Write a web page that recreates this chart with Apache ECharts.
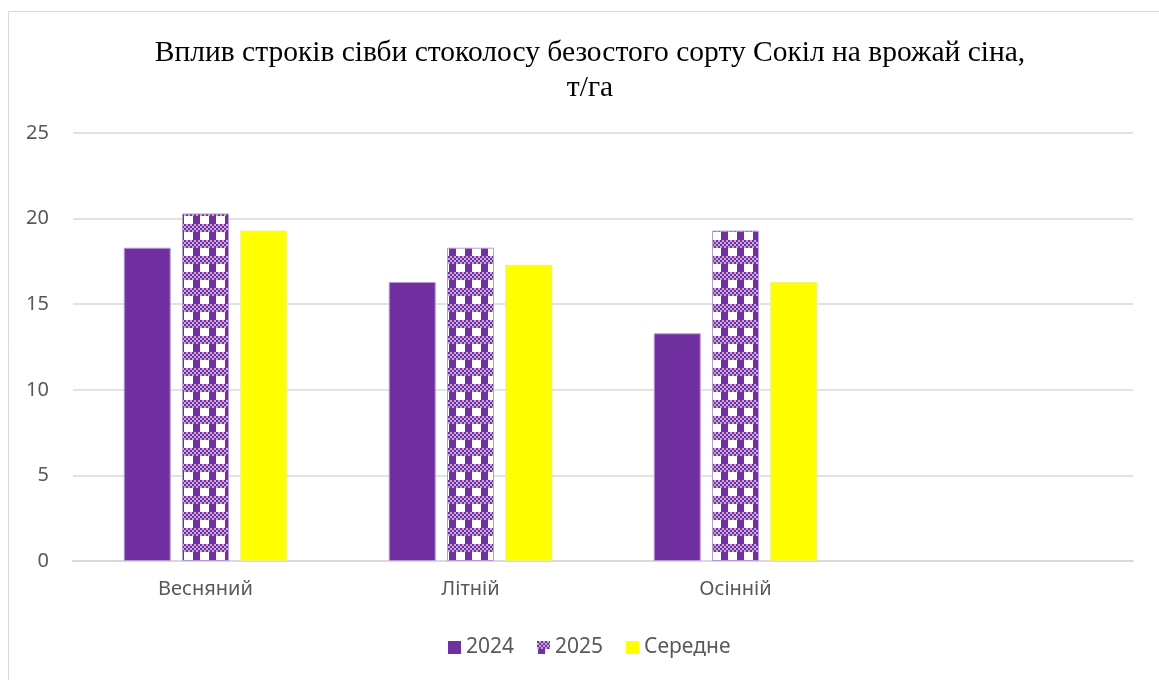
<!DOCTYPE html>
<html>
<head>
<meta charset="utf-8">
<script src="https://cdn.jsdelivr.net/npm/echarts@6/dist/echarts.min.js"></script>
<style>
  html, body { margin: 0; padding: 0; background: #fff; }
  #chart { width: 1159px; height: 680px; }
</style>
</head>
<body>
<div id="chart"></div>
<script>
const categories = ['Весняний', 'Літній', 'Осінній', ''];
const seriesNames = ['2024', '2025', 'Середне'];
const values2024 = [18.3, 16.3, 13.3, null];
const values2025 = [20.3, 18.3, 19.3, null];
const valuesAvg = [19.3, 17.3, 16.3, null];
const yTicks = [0, 5, 10, 15, 20, 25];

const purple = '#7030a0';

// checkered pattern for 2025 series
function makePattern(size) {
    const c = document.createElement('canvas');
    c.width = size; c.height = size;
    const ctx = c.getContext('2d');
    ctx.fillStyle = '#ffffff';
    ctx.fillRect(0, 0, size, size);
    ctx.fillStyle = purple;
    // vertical stripe
    ctx.fillRect(1, 0, 7, size);
    // checkered horizontal band
    for (let y = 0; y < 7; y += 2) {
        for (let x = 0; x < size; x += 2) {
            const on = ((x + y) / 2) % 2 === 0;
            ctx.fillStyle = on ? purple : '#c9a9e0';
            ctx.fillRect(x, y, 2, 2);
        }
    }
    return c;
}

const chart = echarts.init(document.getElementById('chart'));
const pattern = { image: makePattern(16), repeat: 'repeat' };

const option = {
    backgroundColor: '#ffffff',
    title: {
        text: 'Вплив строків сівби стоколосу безостого сорту Сокіл на врожай сіна,\nт/га',
        left: 585,
        textAlign: 'center',
        top: 31,
        textStyle: {
            fontFamily: 'Liberation Serif',
            fontWeight: 'normal',
            fontSize: 29.5,
            color: '#000000',
            lineHeight: 35
        }
    },
    graphic: [{
        type: 'rect',
        shape: { x: 8.5, y: 11.5, width: 1200, height: 700 },
        style: { fill: 'none', stroke: '#d9d9d9', lineWidth: 1 },
        silent: true
    }],
    legend: {
        data: seriesNames,
        top: 632,
        left: 443,
        itemWidth: 13,
        itemHeight: 13,
        itemGap: 23,
        itemStyle: { borderWidth: 0 },
        icon: 'rect',
        textStyle: { fontFamily: 'Noto Sans', fontSize: 21, color: '#595959' }
    },
    grid: { left: 73, right: 26, top: 133, bottom: 119 },
    xAxis: {
        type: 'category',
        data: categories,
        axisLine: { lineStyle: { color: '#d9d9d9', width: 2 } },
        axisTick: { show: false },
        axisLabel: { fontFamily: 'Noto Sans', fontSize: 20, color: '#595959', margin: 18 }
    },
    yAxis: {
        type: 'value',
        min: yTicks[0],
        max: yTicks[yTicks.length - 1],
        interval: 5,
        axisLine: { show: false },
        axisTick: { show: false },
        splitLine: { lineStyle: { color: '#d9d9d9', width: 1.5 } },
        axisLabel: { fontFamily: 'Noto Sans', fontSize: 20, color: '#595959', margin: 24 }
    },
    series: [
        {
            name: seriesNames[0], type: 'bar', data: values2024,
            barWidth: 47, barGap: '24%',
            itemStyle: { color: purple, borderColor: '#b99bd3', borderWidth: 1 }
        },
        {
            name: seriesNames[1], type: 'bar', data: values2025,
            barWidth: 47, barGap: '24%',
            itemStyle: { color: pattern, borderColor: '#b99bd3', borderWidth: 1 }
        },
        {
            name: seriesNames[2], type: 'bar', data: valuesAvg,
            barWidth: 47, barGap: '24%',
            itemStyle: { color: '#ffff00', borderColor: '#f0f080', borderWidth: 1 }
        }
    ]
};

chart.setOption(option);
</script>
</body>
</html>
